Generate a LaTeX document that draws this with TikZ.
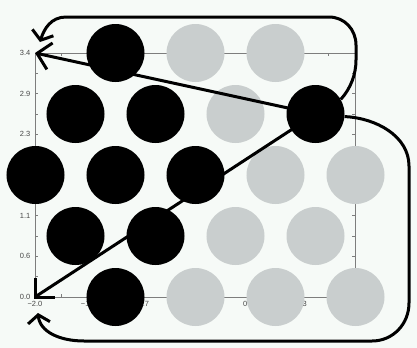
\documentclass[tikz,border=0pt]{standalone}
\usepackage{fontspec}
\setsansfont{Liberation Sans}
\usetikzlibrary{arrows.meta}
\definecolor{bg}{RGB}{246,250,247}
\definecolor{disk}{RGB}{201,206,206}
\definecolor{axisgray}{RGB}{125,125,125}
\definecolor{labelgray}{RGB}{70,70,70}
\begin{document}
\begin{tikzpicture}[x=1bp,y=-1bp,
  blackdisk/.style={circle,fill=black,minimum size=58bp,inner sep=0pt},
  graydisk/.style={circle,fill=disk,minimum size=58bp,inner sep=0pt},
  axisline/.style={draw=axisgray,line width=0.8bp},
  ticklab/.style={font=\sffamily\fontsize{7.5}{8}\selectfont,text=labelgray,inner sep=0pt},
  wire/.style={line width=3bp,black},
  bigtip/.style={-{Straight Barb[length=13bp,width=27bp]}},
  curvetip/.style={-{Straight Barb[length=8bp,width=22bp]}},
]
\fill[bg] (0,0) rectangle (417,348);
\useasboundingbox (0,0) rectangle (417,348);
% axes frame and ticks
\draw[axisline] (35,53) rectangle (355,297);
\foreach \k in {0,...,12} {
  \draw[axisline] (35,{297-20.333*\k}) -- ++(3,0);
  \draw[axisline] (355,{297-20.333*\k}) -- ++(-3,0);
  \draw[axisline] ({35+26.667*\k},297) -- ++(0,-3);
  \draw[axisline] ({35+26.667*\k},53) -- ++(0,3);
}
% tick labels
\foreach \v [count=\i from 0] in {0.0,0.6,1.1,1.7,2.3,2.9,3.4}
  \node[ticklab,anchor=east] (yl\i) at (30.5,{297-40.667*\i}) {\v};
\foreach \v [count=\i from 0] in {−2.0,−1.3,−0.7,0.0,0.7,1.3,2.0}
  \node[ticklab,anchor=north] (xl\i) at ({35+53.333*\i},301.5) {\v};
% disks, row 1
\node[blackdisk] (r1a) at (115.5,53) {};
\node[graydisk]  (r1b) at (195.5,53) {};
\node[graydisk]  (r1c) at (275.5,53) {};
% row 2
\node[blackdisk] (r2a) at (75.5,114) {};
\node[blackdisk] (r2b) at (155.5,114) {};
\node[graydisk]  (r2c) at (235.5,114) {};
\node[blackdisk] (hub) at (315.5,114) {};
% row 3
\node[blackdisk] (r3a) at (35.5,175) {};
\node[blackdisk] (r3b) at (115.5,175) {};
\node[blackdisk] (r3c) at (195.5,175) {};
\node[graydisk]  (r3d) at (275.5,175) {};
\node[graydisk]  (r3e) at (355.5,175) {};
% row 4
\node[blackdisk] (r4a) at (75.5,236) {};
\node[blackdisk] (r4b) at (155.5,236) {};
\node[graydisk]  (r4c) at (235.5,236) {};
\node[graydisk]  (r4d) at (315.5,236) {};
% row 5
\node[blackdisk] (r5a) at (115.5,297) {};
\node[graydisk]  (r5b) at (195.5,297) {};
\node[graydisk]  (r5c) at (275.5,297) {};
\node[graydisk]  (r5d) at (355.5,297) {};
% connectors
\coordinate (O) at (35,297);
\coordinate (T) at (35,53);
\coordinate (TA) at (40,42);
\coordinate (TB) at (38,313);
\draw[wire] (O) -- (hub.center);
\draw[wire,line join=miter] ([yshift=19bp]O) -- (O) -- ([xshift=20bp]O);
\draw[wire,bigtip] (hub.center) -- (T);
\draw[wire,curvetip] (hub.30) .. controls (351,88) and (356,74) .. (356,60)
  -- (356,45) .. controls (356,29.5) and (344.5,17) .. (329,17)
  -- (66,17) .. controls (51,17) and (44,29) .. (TA);
\draw[wire,curvetip] (hub.-5) .. controls (376,118) and (409,136) .. (409,166)
  -- (409,303) .. controls (409,324) and (393,341) .. (372,341)
  -- (84,341) .. controls (60,341) and (40,332) .. (TB);
\end{tikzpicture}
\end{document}
